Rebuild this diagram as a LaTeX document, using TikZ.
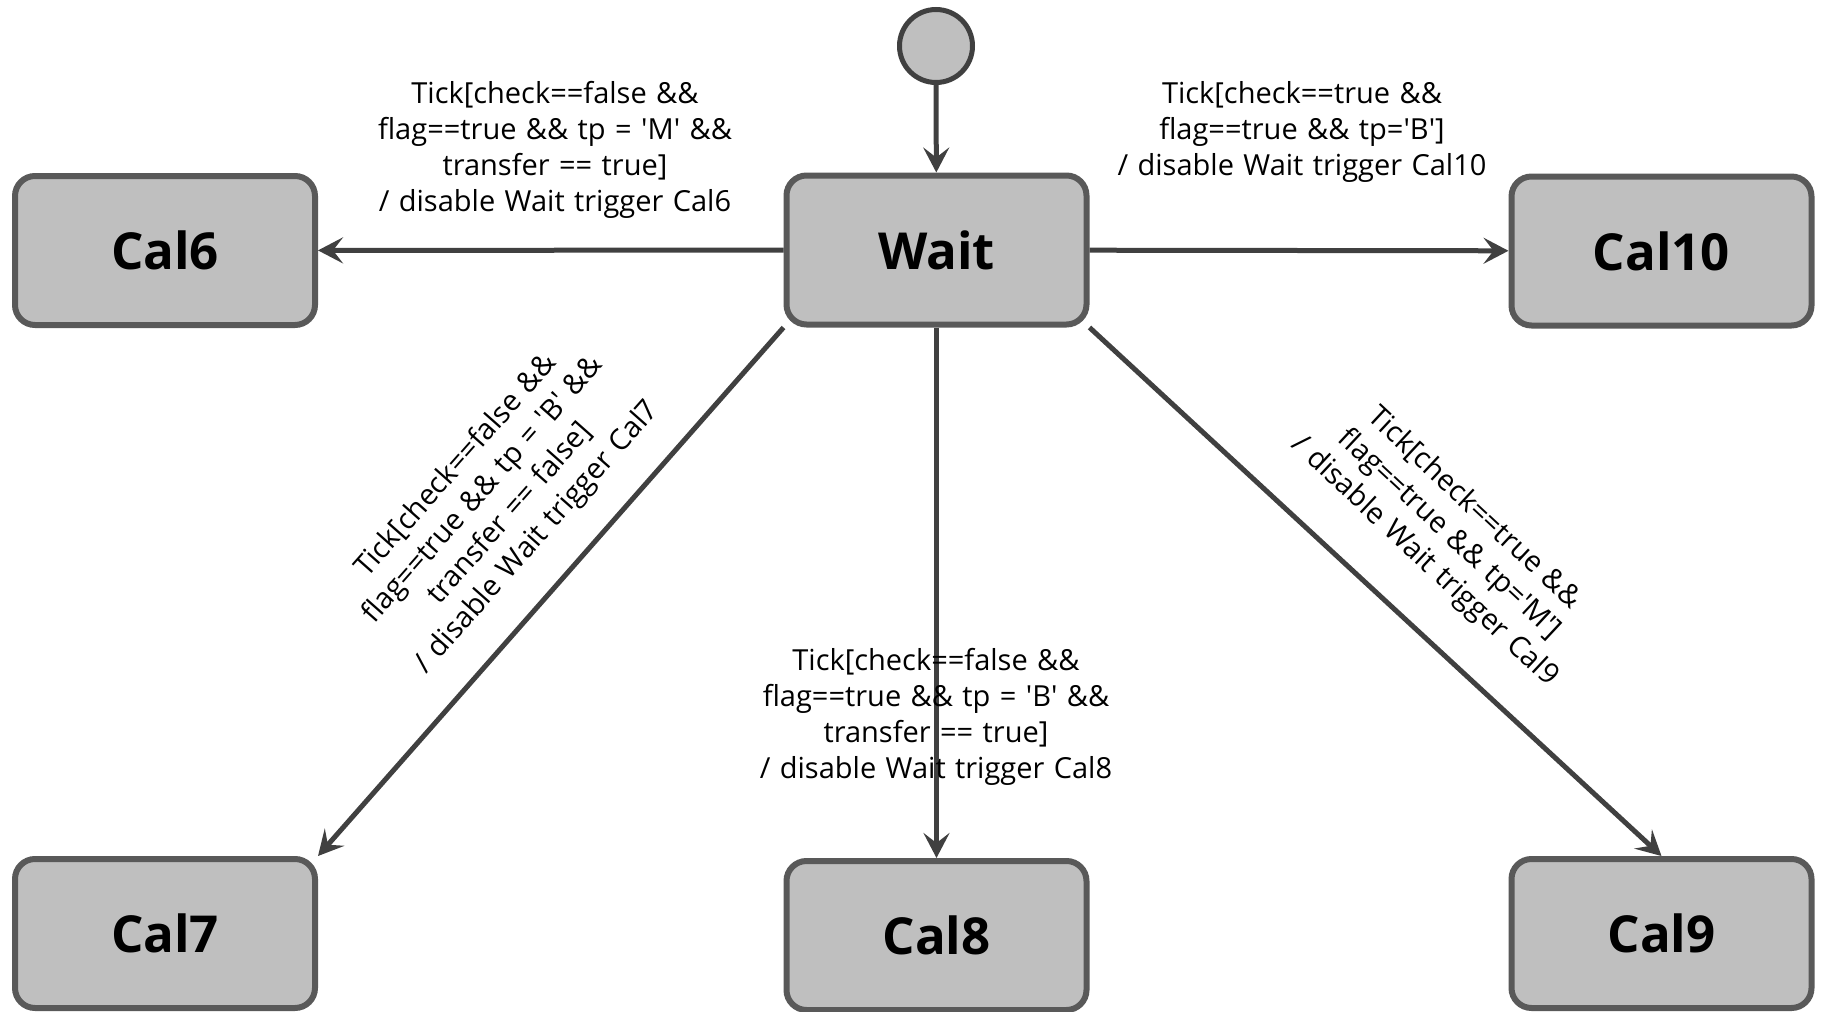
\documentclass[tikz,border=0pt]{standalone}
\usepackage{fontspec}
\setmainfont{Open Sans}
\newfontfamily\guardfont{Open Sans}[WordSpace=1.25]
\usetikzlibrary{arrows.meta}
\definecolor{boxfill}{HTML}{BFBFBF}
\definecolor{boxline}{HTML}{595959}
\definecolor{wire}{HTML}{404040}
\newcommand{\squote}{\textquotesingle}
\begin{document}
\begin{tikzpicture}[x=0.5pt,y=-0.5pt,
  state/.style={draw=boxline, fill=boxfill, line width=3pt, rounded corners=10pt,
    minimum width=150pt, minimum height=74.5pt, inner sep=0pt,
    font=\fontsize{25.5}{30}\selectfont\bfseries},
  initial/.style={circle, draw=wire, fill=boxfill, line width=2.5pt,
    minimum size=36.5pt, inner sep=0pt},
  transition/.style={draw=wire, line width=2.5pt,
    -{Stealth[length=12.5pt,width=13pt,inset=5pt]}},
  guard/.style={font=\guardfont\fontsize{14.5}{18}\selectfont,
    align=center, inner sep=0pt}]
\useasboundingbox (0,0) rectangle (1822,1012);

% states
\node[initial] (init) at (936,46) {};
\node[state] (wait)  at (936.5,250) {Wait};
\node[state] (cal6)  at (165,250.5) {Cal6};
\node[state] (cal10) at (1661.5,251) {Cal10};
\node[state] (cal7)  at (165,933.5) {Cal7};
\node[state] (cal8)  at (936.5,935.5) {Cal8};
\node[state] (cal9)  at (1661.5,933.5) {Cal9};

% transitions
\draw[transition] (init) -- (wait);
\draw[transition] (wait) -- (cal6);
\draw[transition] (wait) -- (cal10);
\draw[transition] (wait.south west) -- (cal7.north east);
\draw[transition] (wait.south) -- (cal8.north);
\draw[transition] (wait.south east) -- (cal9.north);

% guards and actions
\node[guard] (g6) at (555,150) {Tick[check==false \&\&\\
  flag==true \&\& tp = \squote M\squote\ \&\&\\
  transfer == true]\\
  / disable Wait trigger Cal6};
\node[guard] (g10) at (1302,132) {Tick[check==true \&\&\\
  flag==true \&\& tp=\squote B\squote]\\
  / disable Wait trigger Cal10};
\node[guard] (g8) at (936,716.5) {Tick[check==false \&\&\\
  flag==true \&\& tp = \squote B\squote\ \&\&\\
  transfer == true]\\
  / disable Wait trigger Cal8};
\node[guard, rotate=48.5] (g7) at (497,502) {Tick[check==false \&\&\\
  flag==true \&\& tp = \squote B\squote\ \&\&\\
  transfer == false]\\
  / disable Wait trigger Cal7};
\node[guard, rotate=-43] (g9) at (1449,535) {Tick[check==true \&\&\\
  flag==true \&\& tp=\squote M\squote]\\
  / disable Wait trigger Cal9};
\end{tikzpicture}
\end{document}
